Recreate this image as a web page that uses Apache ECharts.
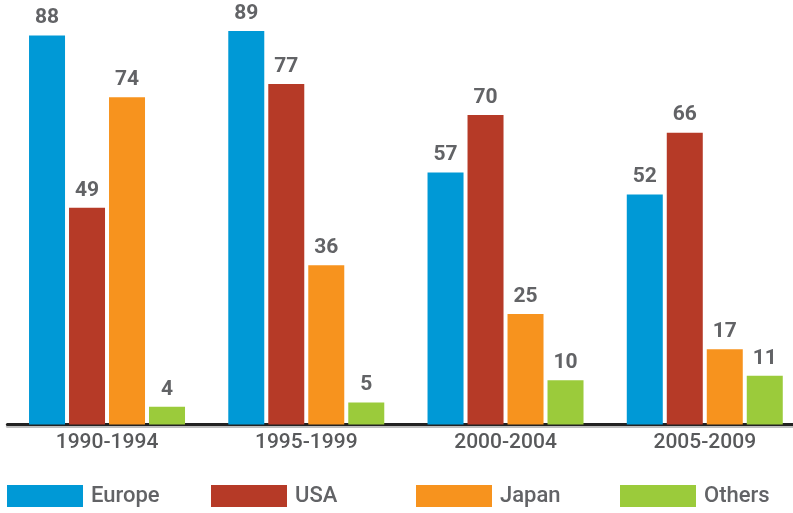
<!DOCTYPE html>
<html>
<head>
<meta charset="utf-8">
<script src="https://cdn.jsdelivr.net/npm/echarts@6/dist/echarts.min.js"></script>
<style>
  html, body { margin: 0; padding: 0; background: #fff; }
  #chart { width: 793px; height: 513px; }
</style>
</head>
<body>
<div id="chart"></div>
<script>
// Periods on the category axis
const periods = ['1990-1994', '1995-1999', '2000-2004', '2005-2009'];

// Values per region
const europe = [88, 89, 57, 52];
const usa    = [49, 77, 70, 66];
const japan  = [74, 36, 25, 17];
const others = [4, 5, 10, 11];

const seriesNames = ['Europe', 'USA', 'Japan', 'Others'];
const seriesData = [europe, usa, japan, others];
const colors = ['#0099d6', '#b63a27', '#f7931e', '#9bcb3b'];
const legendLeft = [7, 211, 416, 620];

const font = 'Roboto, "Liberation Sans", sans-serif';

const chart = echarts.init(document.getElementById('chart'), null, { renderer: 'canvas' });

const series = seriesNames.map((name, i) => ({
  name: name,
  type: 'bar',
  data: seriesData[i],
  barWidth: 36,
  barGap: '11.1%',
  itemStyle: { color: colors[i] },
  label: {
    show: true,
    position: 'top',
    distance: 7,
    color: '#626366',
    fontFamily: font,
    fontWeight: 'bold',
    fontSize: 21
  }
}));

const legends = seriesNames.map((name, i) => ({
  data: [name],
  left: legendLeft[i],
  top: 485,
  padding: 0,
  itemWidth: 76,
  itemHeight: 22,
  icon: 'rect',
  selectedMode: false,
  textStyle: {
    color: '#626366',
    fontFamily: font,
    fontWeight: 500,
    fontSize: 22,
    padding: [0, 0, 0, 3]
  }
}));

chart.setOption({
  animation: false,
  color: colors,
  legend: legends,
  grid: {
    left: 7.4,
    width: 797,
    top: 0,
    bottom: 88.5,
    containLabel: false,
    outerBoundsMode: 'none'
  },
  xAxis: {
    type: 'category',
    data: periods,
    axisTick: { show: false },
    axisLine: {
      show: true,
      lineStyle: {
        color: '#222222',
        width: 3,
        shadowColor: 'rgba(0,0,0,0.25)',
        shadowOffsetY: 2
      }
    },
    axisLabel: {
      color: '#58595b',
      fontFamily: font,
      fontWeight: 500,
      fontSize: 21,
      margin: 8
    }
  },
  yAxis: {
    type: 'value',
    min: 0,
    max: 96,
    show: false,
    splitLine: { show: false }
  },
  series: series
});
</script>
</body>
</html>
